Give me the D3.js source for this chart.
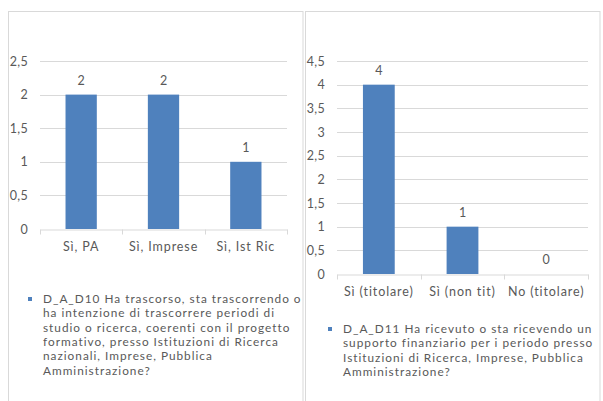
<!DOCTYPE html>
<html>
<head>
<meta charset="utf-8">
<script src="https://cdn.jsdelivr.net/npm/d3@7"></script>
<style>
  body { margin: 0; background: #fff; }
  text { font-family: Lato, "Open Sans", sans-serif; fill: #595959; }
</style>
</head>
<body>
<script>
// left chart
var leftCats = ["Sì, PA", "Sì, Imprese", "Sì, Ist Ric"];
var leftVals = [2, 2, 1];
var leftTicks = [0, 0.5, 1, 1.5, 2, 2.5];
var leftLegend = [
  "D_A_D10 Ha trascorso, sta trascorrendo o",
  "ha intenzione di trascorrere periodi di",
  "studio o ricerca, coerenti con il progetto",
  "formativo, presso Istituzioni di Ricerca",
  "nazionali, Imprese, Pubblica",
  "Amministrazione?"
];

// right chart
var rightCats = ["Sì (titolare)", "Sì (non tit)", "No (titolare)"];
var rightVals = [4, 1, 0];
var rightTicks = [0, 0.5, 1, 1.5, 2, 2.5, 3, 3.5, 4, 4.5];
var rightLegend = [
  "D_A_D11 Ha ricevuto o sta ricevendo un",
  "supporto finanziario per i periodo presso",
  "Istituzioni di Ricerca, Imprese, Pubblica",
  "Amministrazione?"
];

var width = 603, height = 401;
var fmt = function(d) { return String(d).replace(".", ","); };

var svg = d3.select("body").append("svg")
  .attr("width", width)
  .attr("height", height);

// panel borders
svg.append("rect").attr("x", 8.5).attr("y", 11.5).attr("width", 294.5).attr("height", 400)
  .attr("fill", "none").attr("stroke", "#d9d9d9");
svg.append("rect").attr("x", 305.5).attr("y", 11.5).attr("width", 294.5).attr("height", 400)
  .attr("fill", "none").attr("stroke", "#d9d9d9");

var drawChart = function(cats, vals, ticks, legend, box) {
  var x = d3.scaleBand().domain(cats).range([box.x0, box.x1]).paddingInner(0.62).paddingOuter(0.31);
  var y = d3.scaleLinear().domain([0, d3.max(ticks)]).range([box.y0, box.y1]);
  var g = svg.append("g");

  g.selectAll("line.grid").data(ticks.filter(function(d) { return d > 0; })).enter()
    .append("line").attr("class", "grid")
    .attr("x1", box.x0).attr("x2", box.x1)
    .attr("y1", function(d) { return Math.round(y(d)) + 0.5; })
    .attr("y2", function(d) { return Math.round(y(d)) + 0.5; })
    .attr("stroke", "#d9d9d9");

  g.selectAll("text.ytick").data(ticks).enter()
    .append("text").attr("class", "ytick")
    .attr("x", box.x0 - 12)
    .attr("y", function(d) { return y(d) + 4.5; })
    .attr("text-anchor", "end")
    .style("font-size", "12.5px")
    .style("letter-spacing", "0.3px")
    .text(fmt);

  g.selectAll("rect.bar").data(vals).enter()
    .append("rect").attr("class", "bar")
    .attr("x", function(d, i) { return x(cats[i]); })
    .attr("width", x.bandwidth())
    .attr("y", function(d) { return y(d); })
    .attr("height", function(d) { return y(0) - y(d); })
    .attr("fill", "#4f81bd");

  g.selectAll("text.val").data(vals).enter()
    .append("text").attr("class", "val")
    .attr("x", function(d, i) { return x(cats[i]) + x.bandwidth() / 2; })
    .attr("y", function(d) { return y(d) - 10; })
    .attr("text-anchor", "middle")
    .style("font-size", "12.5px")
    .text(function(d) { return d; });

  // x axis
  var xa = d3.axisBottom(x).tickSize(0).tickFormat(function(d) { return d; });
  var ax = g.append("g").attr("transform", "translate(0," + (Math.round(y(0)) + 0.5) + ")").call(xa);
  ax.select(".domain").attr("stroke", "#d9d9d9");
  ax.selectAll(".tick text").attr("dy", 0).attr("y", 21)
    .style("font-size", "12.5px").style("letter-spacing", "0.9px").attr("fill", null);
  var edges = d3.range(cats.length + 1).map(function(i) { return box.x0 + i * (box.x1 - box.x0) / cats.length; });
  ax.selectAll("line.edge").data(edges).enter().append("line").attr("class", "edge")
    .attr("x1", function(d) { return Math.round(d) + 0.5; })
    .attr("x2", function(d) { return Math.round(d) + 0.5; })
    .attr("y1", 0).attr("y2", 5).attr("stroke", "#d9d9d9");

  // legend
  svg.append("rect").attr("x", box.lx - 15).attr("y", box.ly - 6).attr("width", 4).attr("height", 4)
    .attr("fill", "#4f81bd");
  svg.append("text")
    .attr("x", box.lx).attr("y", box.ly)
    .style("font-size", "11.8px").style("letter-spacing", "1px")
    .selectAll("tspan").data(legend).enter().append("tspan")
    .attr("x", box.lx)
    .attr("dy", function(d, i) { return i === 0 ? 0 : 14.3; })
    .text(function(d) { return d; });
};

drawChart(leftCats, leftVals, leftTicks, leftLegend,
  { x0: 40, x1: 287, y0: 229, y1: 61, lx: 43, ly: 303 });
drawChart(rightCats, rightVals, rightTicks, rightLegend,
  { x0: 337, x1: 588, y0: 274, y1: 61, lx: 343, ly: 333 });
</script>
</body>
</html>
